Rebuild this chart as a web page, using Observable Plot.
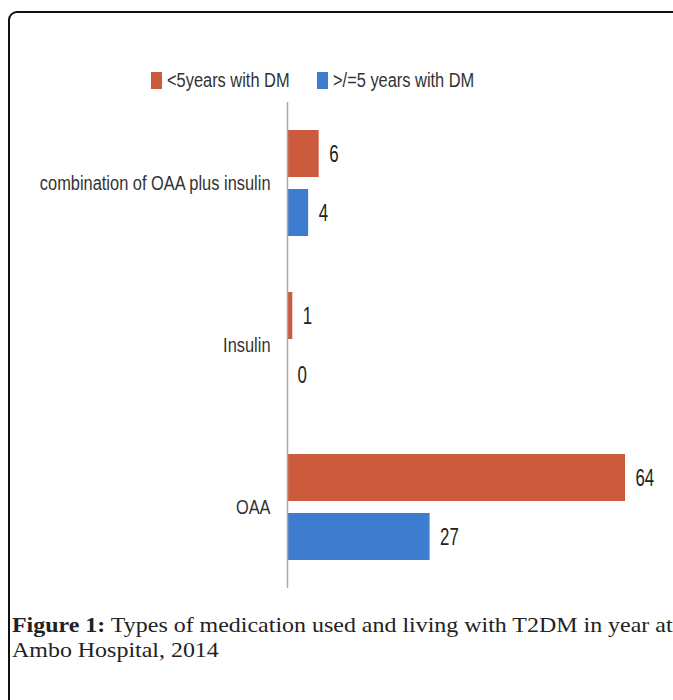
<!DOCTYPE html>
<html>
<head>
<meta charset="utf-8">
<script src="https://cdn.jsdelivr.net/npm/d3@7"></script>
<script src="https://cdn.jsdelivr.net/npm/@observablehq/plot@0.6"></script>
<style>
  html, body { margin: 0; padding: 0; background: #fff; }
  body { width: 673px; height: 700px; overflow: hidden; position: relative; }
  .frame { position: absolute; left: 8px; top: 11px; width: 780px; height: 760px;
           border: 2px solid #111; border-radius: 9px; box-sizing: border-box; }
  .legend-item { position: absolute; display: flex; align-items: center;
                 font-family: "Liberation Sans", Arial, sans-serif;
                 font-size: 20px; color: #333; white-space: nowrap; }
  .legend-text { display: inline-block; transform: scaleX(0.82); transform-origin: left center; }
  .swatch { display: inline-block; width: 11px; height: 17px; margin-right: 5px; }
  #chart { position: absolute; left: 0; top: 0; }
  #caption { position: absolute; left: 12px; top: 613px; font-family: "Liberation Serif", "DejaVu Serif", serif;
             font-size: 21px; line-height: 25px; color: #222; white-space: nowrap;
             transform: scaleX(1.14); transform-origin: left top; }
</style>
</head>
<body>
<div class="frame"></div>
<div id="legend"></div>
<div id="chart"></div>
<div id="caption"><b>Figure 1:</b> Types of medication used and living with T2DM in year at<br>Ambo Hospital, 2014</div>
<script>
const categories = ["combination of OAA plus insulin", "Insulin", "OAA"];
const seriesNames = ["<5years with DM", ">/=5 years with DM"];
const lessThan5Years = [6, 1, 64];
const atLeast5Years = [4, 0, 27];
const seriesColors = ["#cc5a3c", "#3e7ccf"];
const legendLeft = [151, 317];

const data = categories.flatMap((c, i) => [
  {category: c, series: seriesNames[0], value: lessThan5Years[i]},
  {category: c, series: seriesNames[1], value: atLeast5Years[i]}
]);

// Legend (HTML, above the SVG)
const legend = document.getElementById("legend");
seriesNames.forEach((s, i) => {
  const item = document.createElement("div");
  item.className = "legend-item";
  item.style.left = legendLeft[i] + "px";
  item.style.top = "69px";
  const sw = document.createElement("span");
  sw.className = "swatch";
  sw.style.background = seriesColors[i];
  item.appendChild(sw);
  const tx = document.createElement("span");
  tx.className = "legend-text";
  tx.textContent = s;
  item.appendChild(tx);
  legend.appendChild(item);
});

const font = '"Liberation Sans", Arial, sans-serif';

const chart = Plot.plot({
  width: 673,
  height: 700,
  marginTop: 102,
  marginBottom: 112,
  marginLeft: 287,
  marginRight: 48,
  style: {fontFamily: font, fontSize: "20px", color: "#333", background: "transparent", overflow: "visible"},
  x: {domain: [0, 64], axis: null},
  y: {domain: seriesNames, axis: null, paddingInner: 0.203, paddingOuter: 0.47},
  fy: {domain: categories, padding: 0, label: null},
  color: {domain: seriesNames, range: seriesColors},
  marks: [
    Plot.axisFy({anchor: "left", tickSize: 0, tickPadding: 17, fontSize: 20, label: null, fill: "#333"}),
    Plot.barX(data, {x: "value", y: "series", fy: "category", fill: "series"}),
    Plot.text(data, {x: "value", y: "series", fy: "category", text: d => String(d.value),
                     dx: 10, textAnchor: "start", fontSize: 24, fill: "#222"}),
    Plot.ruleX([0], {stroke: "#a8a8a8", strokeWidth: 1.5})
  ]
});
document.getElementById("chart").appendChild(chart);

// Condense the text horizontally, like the narrow font of the original
function condense(selection, factor) {
  selection.each(function () {
    const w = this.getComputedTextLength();
    this.setAttribute("textLength", (w * factor).toFixed(1));
    this.setAttribute("lengthAdjust", "spacingAndGlyphs");
  });
}
const svg = d3.select(chart.tagName === "svg" ? chart : chart.querySelector("svg"));
condense(svg.selectAll('g[aria-label^="fy-axis"] text'), 0.82);
condense(svg.selectAll('g[aria-label="text"] text'), 0.7);
</script>
</body>
</html>
